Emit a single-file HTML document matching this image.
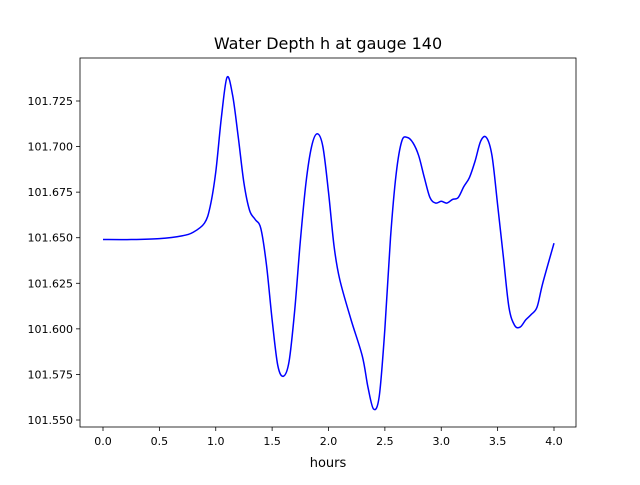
<!DOCTYPE html>
<html><head><meta charset="utf-8"><style>
body{margin:0;background:#fff;}
svg text{font-family:"DejaVu Sans","Liberation Sans",sans-serif;}
</style></head><body>
<svg id="chart" width="640" height="480" xmlns="http://www.w3.org/2000/svg">
<rect width="640" height="480" fill="#fff"/>
<text x="328" y="49" font-size="16" text-anchor="middle">Water Depth h at gauge 140</text>
<g id="axes"></g>
<text x="328" y="467" font-size="13" text-anchor="middle">hours</text>
</svg>
<script>
const hours=[0,0.25,0.5,0.7,0.8,0.9,0.95,1.0,1.05,1.1,1.15,1.2,1.25,1.3,1.35,1.4,1.45,1.5,1.55,1.6,1.65,1.7,1.75,1.8,1.85,1.9,1.95,2.0,2.05,2.1,2.2,2.3,2.35,2.4,2.45,2.5,2.55,2.6,2.65,2.7,2.75,2.8,2.85,2.9,2.95,3.0,3.05,3.1,3.15,3.2,3.25,3.3,3.35,3.4,3.45,3.5,3.55,3.6,3.65,3.7,3.75,3.8,3.85,3.9,4.0];
const depth=[101.649,101.649,101.6495,101.651,101.653,101.658,101.667,101.686,101.716,101.738,101.728,101.705,101.680,101.665,101.660,101.655,101.635,101.605,101.580,101.574,101.582,101.610,101.648,101.680,101.700,101.707,101.700,101.675,101.645,101.627,101.605,101.585,101.568,101.556,101.563,101.600,101.650,101.685,101.703,101.705,101.702,101.695,101.683,101.672,101.669,101.670,101.669,101.671,101.672,101.678,101.683,101.692,101.703,101.705,101.695,101.668,101.640,101.612,101.602,101.601,101.605,101.608,101.612,101.625,101.647];
const xTicks=[0,0.5,1,1.5,2,2.5,3,3.5,4];
const xTickLabels=["0.0","0.5","1.0","1.5","2.0","2.5","3.0","3.5","4.0"];
const yTicks=[101.55,101.575,101.6,101.625,101.65,101.675,101.7,101.725];
const yTickLabels=["101.550","101.575","101.600","101.625","101.650","101.675","101.700","101.725"];
const NS="http://www.w3.org/2000/svg";
const L=80,R=576,T=58,B=427;
const xs=v=>103+(v-0)*(554-103)/4;
const ys=v=>420-(v-101.55)*(420-101)/0.175;
const g=document.getElementById('axes');
function mk(t,a){const e=document.createElementNS(NS,t);for(const k in a)e.setAttribute(k,a[k]);g.appendChild(e);return e;}
xTicks.forEach((t,i)=>{const x=xs(t);
const l=mk('line',{x1:x,x2:x,y1:B,y2:B+4,stroke:'#000','stroke-width':0.8});

const tx=mk('text',{x:x,y:B+18,'font-size':11,'text-anchor':'middle'});tx.textContent=xTickLabels[i];
});
yTicks.forEach((t,i)=>{const y=ys(t);
const l=mk('line',{x1:L-4,x2:L,y1:y,y2:y,stroke:'#000','stroke-width':0.8});

const tx=mk('text',{x:L-7,y:y+4,'font-size':11,'text-anchor':'end'});tx.textContent=yTickLabels[i];
});
const pts=hours.map((h,i)=>[xs(h),ys(depth[i])]);
let d='M'+pts[0][0]+','+pts[0][1];
for(let i=0;i<pts.length-1;i++){const p0=pts[Math.max(0,i-1)],p1=pts[i],p2=pts[i+1],p3=pts[Math.min(pts.length-1,i+2)];
d+=' C'+(p1[0]+(p2[0]-p0[0])/6)+','+(p1[1]+(p2[1]-p0[1])/6)+' '+(p2[0]-(p3[0]-p1[0])/6)+','+(p2[1]-(p3[1]-p1[1])/6)+' '+p2[0]+','+p2[1];}
const path=mk('path',{d:d,fill:'none',stroke:'#0000ff','stroke-width':1.5});

const fr=mk('rect',{x:L,y:T,width:R-L,height:B-T,fill:'none',stroke:'#000','stroke-width':0.8});

</script>
</body></html>
